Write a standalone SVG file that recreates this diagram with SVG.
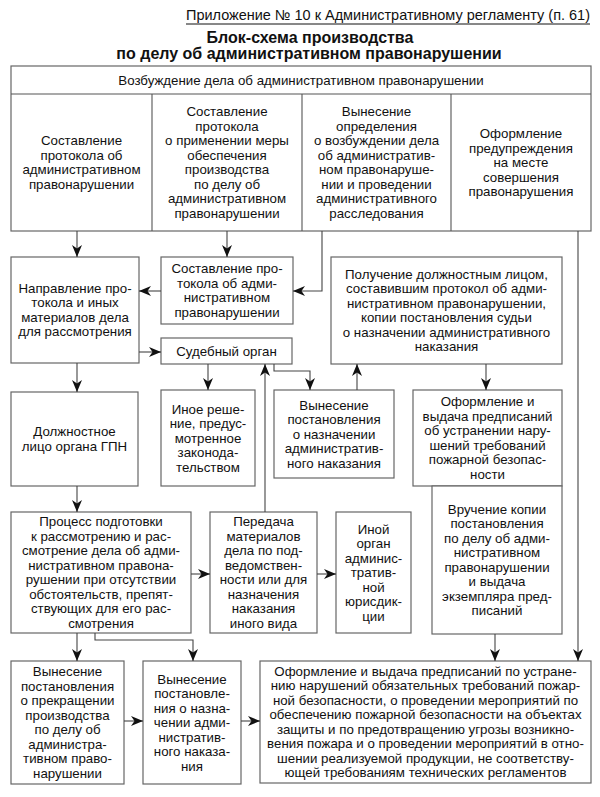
<svg xmlns="http://www.w3.org/2000/svg" width="600" height="797" viewBox="0 0 600 797">
<style>
text{font-family:"Liberation Sans",Arial,sans-serif;font-size:13.3px;fill:#111;text-anchor:middle}
.box{fill:#fff;stroke:#666;stroke-width:1.2}
.ln{fill:none;stroke:#555;stroke-width:1.1}
.ar{fill:none;stroke:#444;stroke-width:1.1;marker-end:url(#ah)}
.ttl{font-weight:bold;font-size:16px}
</style>
<defs>
<marker id="ah" markerUnits="userSpaceOnUse" markerWidth="13" markerHeight="10" refX="12" refY="5" orient="auto">
<path d="M0,0 L12,5 L0,10 L3.5,5 z" fill="#111"/>
</marker>
</defs>
<rect width="600" height="797" fill="#fff"/>
<g id="title">
<text x="590" y="20" style="text-anchor:end;font-size:14.5px" textLength="404" lengthAdjust="spacingAndGlyphs">Приложение № 10 к Административному регламенту (п. 61)</text>
<line x1="186" y1="24" x2="590" y2="24" stroke="#111" stroke-width="1"/>
<text class="ttl" x="310" y="43">Блок-схема производства</text>
<text class="ttl" x="309" y="59">по делу об административном правонарушении</text>
</g>
<g id="n-top">
<rect class="box" x="11" y="66" width="580" height="165"/>
<line class="ln" x1="11" y1="94" x2="591" y2="94"/>
<line class="ln" x1="152" y1="94" x2="152" y2="231"/>
<line class="ln" x1="302" y1="94" x2="302" y2="231"/>
<line class="ln" x1="451" y1="94" x2="451" y2="231"/>
<text x="301" y="85">Возбуждение дела об административном правонарушении</text>
<text><tspan x="81.5" y="145.25">Составление</tspan><tspan x="81.5" y="159.75">протокола об</tspan><tspan x="81.5" y="174.25">административном</tspan><tspan x="81.5" y="188.75">правонарушении</tspan></text>
<text><tspan x="227" y="116.25">Составление</tspan><tspan x="227" y="130.75">протокола</tspan><tspan x="227" y="145.25">о применении меры</tspan><tspan x="227" y="159.75">обеспечения</tspan><tspan x="227" y="174.25">производства</tspan><tspan x="227" y="188.75">по делу об</tspan><tspan x="227" y="203.25">административном</tspan><tspan x="227" y="217.75">правонарушении</tspan></text>
<text><tspan x="376.5" y="116.25">Вынесение</tspan><tspan x="376.5" y="130.75">определения</tspan><tspan x="376.5" y="145.25">о возбуждении дела</tspan><tspan x="376.5" y="159.75">об административ-</tspan><tspan x="376.5" y="174.25">ном правонаруше-</tspan><tspan x="376.5" y="188.75">нии и проведении</tspan><tspan x="376.5" y="203.25">административного</tspan><tspan x="376.5" y="217.75">расследования</tspan></text>
<text><tspan x="521" y="138">Оформление</tspan><tspan x="521" y="152.5">предупреждения</tspan><tspan x="521" y="167">на месте</tspan><tspan x="521" y="181.5">совершения</tspan><tspan x="521" y="196">правонарушения</tspan></text>
</g>
<g id="n-napr">
<rect class="box" x="11" y="257" width="128" height="106"/>
<text><tspan x="75" y="292.75">Направление про-</tspan><tspan x="75" y="307.25">токола и иных</tspan><tspan x="75" y="321.75">материалов дела</tspan><tspan x="75" y="336.25">для рассмотрения</tspan></text>
</g>
<g id="n-sost2">
<rect class="box" x="161" y="257" width="132" height="67"/>
<text><tspan x="227" y="273.25">Составление про-</tspan><tspan x="227" y="287.75">токола об адми-</tspan><tspan x="227" y="302.25">нистративном</tspan><tspan x="227" y="316.75">правонарушении</tspan></text>
</g>
<g id="n-sud">
<rect class="box" x="161" y="338" width="131" height="26"/>
<text x="226.5" y="355.5">Судебный орган</text>
</g>
<g id="n-poluch">
<rect class="box" x="331" y="257" width="231" height="107"/>
<text><tspan x="446.5" y="278.75">Получение должностным лицом,</tspan><tspan x="446.5" y="293.25">составившим протокол об адми-</tspan><tspan x="446.5" y="307.75">нистративном правонарушении,</tspan><tspan x="446.5" y="322.25">копии постановления судьи</tspan><tspan x="446.5" y="336.75">о назначении административного</tspan><tspan x="446.5" y="351.25">наказания</tspan></text>
</g>
<g id="n-dolzh">
<rect class="box" x="11" y="392" width="127" height="94"/>
<text><tspan x="74.5" y="436.25">Должностное</tspan><tspan x="74.5" y="450.75">лицо органа ГПН</tspan></text>
</g>
<g id="n-inoe">
<rect class="box" x="161" y="390" width="94" height="96"/>
<text><tspan x="208" y="413.5">Иное реше-</tspan><tspan x="208" y="428">ние, предус-</tspan><tspan x="208" y="442.5">мотренное</tspan><tspan x="208" y="457">законода-</tspan><tspan x="208" y="471.5">тельством</tspan></text>
</g>
<g id="n-vynpost">
<rect class="box" x="274" y="390" width="120" height="88"/>
<text><tspan x="334" y="409.5">Вынесение</tspan><tspan x="334" y="424">постановления</tspan><tspan x="334" y="438.5">о назначении</tspan><tspan x="334" y="453">административ-</tspan><tspan x="334" y="467.5">ного наказания</tspan></text>
</g>
<g id="n-oform">
<rect class="box" x="413" y="390" width="149" height="96"/>
<text><tspan x="487.5" y="406.25">Оформление и</tspan><tspan x="487.5" y="420.75">выдача предписаний</tspan><tspan x="487.5" y="435.25">об устранении нару-</tspan><tspan x="487.5" y="449.75">шений требований</tspan><tspan x="487.5" y="464.25">пожарной безопас-</tspan><tspan x="487.5" y="478.75">ности</tspan></text>
</g>
<g id="n-vruch">
<rect class="box" x="432" y="486" width="130" height="148"/>
<text><tspan x="497" y="513.75">Вручение копии</tspan><tspan x="497" y="528.25">постановления</tspan><tspan x="497" y="542.75">по делу об адми-</tspan><tspan x="497" y="557.25">нистративном</tspan><tspan x="497" y="571.75">правонарушении</tspan><tspan x="497" y="586.25">и выдача</tspan><tspan x="497" y="600.75">экземпляра пред-</tspan><tspan x="497" y="615.25">писаний</tspan></text>
</g>
<g id="n-process">
<rect class="box" x="11" y="512" width="180" height="121"/>
<text><tspan x="101" y="526.25">Процесс подготовки</tspan><tspan x="101" y="540.75">к рассмотрению и рас-</tspan><tspan x="101" y="555.25">смотрение дела об адми-</tspan><tspan x="101" y="569.75">нистративном правона-</tspan><tspan x="101" y="584.25">рушении при отсутствии</tspan><tspan x="101" y="598.75">обстоятельств, препят-</tspan><tspan x="101" y="613.25">ствующих для его рас-</tspan><tspan x="101" y="627.75">смотрения</tspan></text>
</g>
<g id="n-peredacha">
<rect class="box" x="210" y="512" width="107" height="121"/>
<text><tspan x="263.5" y="526.25">Передача</tspan><tspan x="263.5" y="540.75">материалов</tspan><tspan x="263.5" y="555.25">дела по под-</tspan><tspan x="263.5" y="569.75">ведомствен-</tspan><tspan x="263.5" y="584.25">ности или для</tspan><tspan x="263.5" y="598.75">назначения</tspan><tspan x="263.5" y="613.25">наказания</tspan><tspan x="263.5" y="627.75">иного вида</tspan></text>
</g>
<g id="n-inoyorgan">
<rect class="box" x="336" y="512" width="75" height="121"/>
<text><tspan x="373.5" y="533.5">Иной</tspan><tspan x="373.5" y="548">орган</tspan><tspan x="373.5" y="562.5">админис-</tspan><tspan x="373.5" y="577">тратив-</tspan><tspan x="373.5" y="591.5">ной</tspan><tspan x="373.5" y="606">юрисдик-</tspan><tspan x="373.5" y="620.5">ции</tspan></text>
</g>
<g id="n-prekr">
<rect class="box" x="11" y="661" width="113" height="123"/>
<text><tspan x="67.5" y="676.25">Вынесение</tspan><tspan x="67.5" y="690.75">постановления</tspan><tspan x="67.5" y="705.25">о прекращении</tspan><tspan x="67.5" y="719.75">производства</tspan><tspan x="67.5" y="734.25">по делу об</tspan><tspan x="67.5" y="748.75">администра-</tspan><tspan x="67.5" y="763.25">тивном право-</tspan><tspan x="67.5" y="777.75">нарушении</tspan></text>
</g>
<g id="n-naznach">
<rect class="box" x="143" y="661" width="98" height="123"/>
<text><tspan x="192" y="683.5">Вынесение</tspan><tspan x="192" y="698">постановле-</tspan><tspan x="192" y="712.5">ния о назна-</tspan><tspan x="192" y="727">чении адми-</tspan><tspan x="192" y="741.5">нистратив-</tspan><tspan x="192" y="756">ного наказа-</tspan><tspan x="192" y="770.5">ния</tspan></text>
</g>
<g id="n-final">
<rect class="box" x="260" y="661" width="331" height="122"/>
<text><tspan x="425.5" y="675.75">Оформление и выдача предписаний по устране-</tspan><tspan x="425.5" y="690.25">нию нарушений обязательных требований пожар-</tspan><tspan x="425.5" y="704.75">ной безопасности, о проведении мероприятий по</tspan><tspan x="425.5" y="719.25">обеспечению пожарной безопасности на объектах</tspan><tspan x="425.5" y="733.75">защиты и по предотвращению угрозы возникно-</tspan><tspan x="425.5" y="748.25">вения пожара и о проведении мероприятий в отно-</tspan><tspan x="425.5" y="762.75">шении реализуемой продукции, не соответству-</tspan><tspan x="425.5" y="777.25">ющей требованиям технических регламентов</tspan></text>
</g>
<g id="connectors">
<line class="ar" x1="77" y1="231" x2="77" y2="257"/>
<line class="ar" x1="227" y1="231" x2="227" y2="257"/>
<polyline class="ar" points="322,231 322,291 293,291"/>
<line class="ar" x1="578" y1="231" x2="578" y2="661"/>
<line class="ar" x1="161" y1="291" x2="139" y2="291"/>
<line class="ar" x1="139" y1="352" x2="161" y2="352"/>
<line class="ar" x1="486" y1="364" x2="486" y2="390"/>
<line class="ar" x1="77" y1="363" x2="77" y2="392"/>
<line class="ar" x1="208" y1="364" x2="208" y2="390"/>
<polyline class="ar" points="274,364 274,371 310,371 310,390"/>
<line class="ar" x1="357" y1="390" x2="357" y2="364"/>
<line class="ar" x1="265" y1="512" x2="265" y2="364"/>
<line class="ar" x1="77" y1="486" x2="77" y2="512"/>
<line class="ar" x1="191" y1="574" x2="210" y2="574"/>
<line class="ar" x1="317" y1="574" x2="336" y2="574"/>
<line class="ar" x1="77" y1="633" x2="77" y2="661"/>
<polyline class="ar" points="95,633 95,640 193,640 193,661"/>
<line class="ar" x1="495" y1="634" x2="495" y2="661"/>
<line class="ar" x1="124" y1="721" x2="143" y2="721"/>
<line class="ar" x1="241" y1="721" x2="260" y2="721"/>
</g>
</svg>
